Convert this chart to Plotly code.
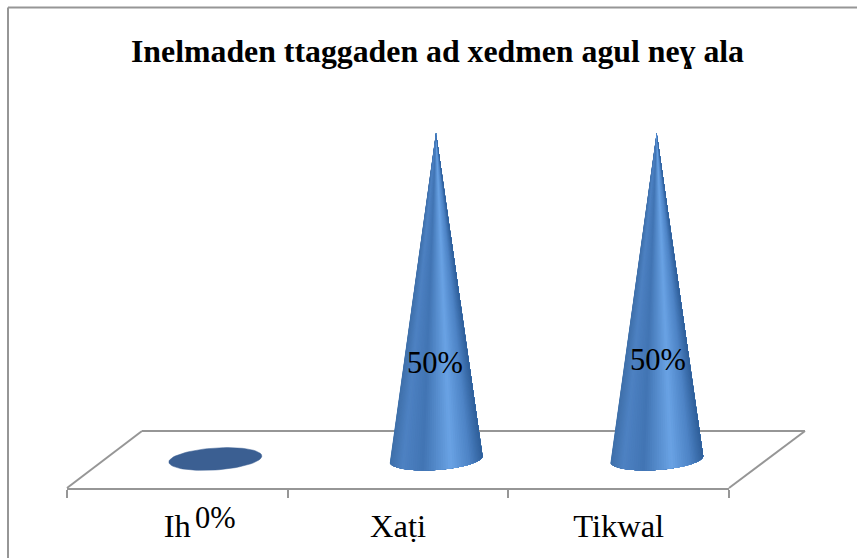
import numpy as np
import plotly.graph_objects as go

title = "Inelmaden ttaggaden ad xedmen agul neɣ ala"
categories = ["Ih", "Xaṭi", "Tikwal"]
values = [0, 50, 50]
label_lift = [-9.0, 14.8, 15.2]
label_shift = [0.0, -0.005, 0.005]

W, H = 857, 558
L, R, B, T = 67, 729, 488, 8
DEPTH_X = 38 / 220.7          # front-to-back offset of the marks, in category units
PX_PER_VALUE = 6.52
Y_ZERO_PX = 459
RX = 46.5 / 220.7             # base ellipse half-width in category units
RY = 11 / PX_PER_VALUE
TILT = 3 / PX_PER_VALUE
GREY = "#969696"
STOPS = [(0.0, (63, 112, 170)), (0.14, (78, 130, 195)), (0.36, (66, 117, 180)),
         (0.66, (106, 163, 229)), (0.86, (78, 132, 198)), (1.0, (48, 96, 155))]
BASE_COLOR = "#3b5f92"

ymin = -(B - Y_ZERO_PX) / PX_PER_VALUE
ymax = (Y_ZERO_PX - T) / PX_PER_VALUE


def colour(f):
    xs = [s[0] for s in STOPS]
    rgb = [np.interp(f, xs, [s[1][k] for s in STOPS]) for k in range(3)]
    return "rgb(%d,%d,%d)" % tuple(rgb)


sx = lambda p: p / W
sy = lambda p: (H - p) / H

fig = go.Figure()
# real category axis carrying the labels
fig.add_trace(go.Scatter(x=categories, y=[None] * 3, xaxis="x", yaxis="y", showlegend=False, hoverinfo="skip"))

for i, (c, v) in enumerate(zip(categories, values)):
    cx = i + DEPTH_X
    if v == 0:
        t = np.linspace(0, 2 * np.pi, 73)
        fig.add_trace(go.Scatter(
            x=cx + RX * np.cos(t), y=RY * np.sin(t) + TILT * np.cos(t),
            xaxis="x2", yaxis="y", mode="lines", fill="toself", fillcolor=BASE_COLOR,
            line=dict(color=BASE_COLOR, width=0.5), showlegend=False, hoverinfo="skip"))
    else:
        n = 60
        ts = np.pi + np.linspace(0, np.pi, n + 1)
        # painter's order: each fan spans to the far edge, so no seams show between colours
        for k in range(n):
            arc = ts[k:]
            f = (np.cos((ts[k] + ts[k + 1]) / 2) + 1) / 2
            col = colour(f)
            xs = [cx] + list(cx + RX * np.cos(arc)) + [cx]
            ys = [v] + list(RY * np.sin(arc) + TILT * np.cos(arc)) + [v]
            fig.add_trace(go.Scatter(
                x=xs, y=ys, xaxis="x2", yaxis="y", mode="lines", fill="toself", fillcolor=col,
                line=dict(color=col, width=0), showlegend=False, hoverinfo="skip"))
    # paper reference so the label may sit below the axis range
    px_x = L + (cx + label_shift[i] + 0.5) * (R - L) / 3
    px_y = Y_ZERO_PX - label_lift[i] * PX_PER_VALUE
    fig.add_annotation(
        x=sx(px_x), y=sy(px_y), xref="paper", yref="paper", xanchor="center", yanchor="middle",
        text=f"{v}%", showarrow=False,
        font=dict(family="Liberation Serif", size=30.5, color="black"))

# floor outline (behind the cones)
fl = dict(type="line", xref="paper", yref="paper", layer="below", line=dict(color=GREY, width=2))
fig.add_shape(x0=sx(L), x1=sx(142), y0=sy(B), y1=sy(431), **fl)
fig.add_shape(x0=sx(142), x1=sx(805), y0=sy(431), y1=sy(431), **fl)
fig.add_shape(x0=sx(805), x1=sx(R), y0=sy(431), y1=sy(B), **fl)
# chart frame: top and left edges only are visible in the reference
fig.add_shape(x0=sx(8), x1=sx(W), y0=sy(7.5), y1=sy(7.5), **fl)
fig.add_shape(x0=sx(8), x1=sx(8), y0=sy(7.5), y1=sy(H), **fl)

fig.add_annotation(x=sx(437.5), y=sy(51.5), xref="paper", yref="paper", xanchor="center", yanchor="middle",
                   text=f"<b>{title}</b>", showarrow=False,
                   font=dict(family="Liberation Serif", size=31.8, color="black"))

fig.update_layout(
    width=W, height=H, autosize=False, margin=dict(l=0, r=0, t=0, b=0),
    paper_bgcolor="white", plot_bgcolor="white", showlegend=False,
    xaxis=dict(type="category", categoryorder="array", categoryarray=categories, range=[-0.5, 2.5],
               domain=[L / W, R / W], tickson="boundaries", ticks="outside", ticklen=8, tickwidth=2,
               tickcolor=GREY, showline=True, linecolor=GREY, linewidth=2, showgrid=False, zeroline=False,
               tickfont=dict(family="Liberation Serif", size=32.5, color="black"), anchor="y",
               ticklabelstandoff=8),
    xaxis2=dict(overlaying="x", range=[-0.5, 2.5], visible=False, domain=[L / W, R / W], anchor="y"),
    yaxis=dict(range=[ymin, ymax], domain=[(H - B) / H, (H - T) / H], visible=False),
)
fig.write_html("out.html", config={"displayModeBar": False},
               post_script="document.body.style.margin='0';document.body.style.overflow='hidden';")
